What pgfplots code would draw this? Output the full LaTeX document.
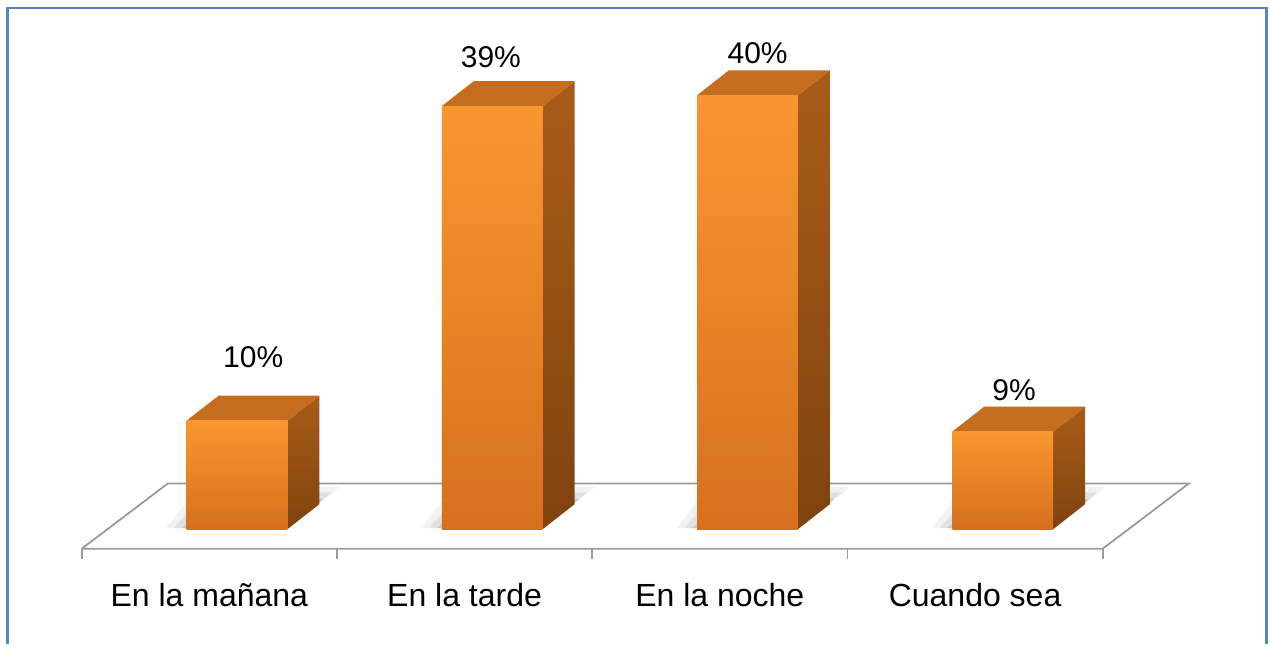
\documentclass[border=0pt]{standalone}
\usepackage{pgfplots}
\pgfplotsset{compat=1.18}
\usepackage{pgfplotstable}
\usepackage{fontspec}
\setmainfont{Liberation Sans}

\definecolor{frontTop}{HTML}{FA9630}
\definecolor{frontBot}{HTML}{D6701E}
\definecolor{sideTop}{HTML}{A95C19}
\definecolor{sideBot}{HTML}{7F430F}
\definecolor{topFace}{HTML}{C46D1F}
\definecolor{floorLine}{HTML}{9A9A9A}
\definecolor{frameBlue}{HTML}{5585C0}

% value in %, label offsets (x in categories, y in %)
\pgfplotstableread{
pos value lx ly
0 10 0.172 4.9
1 39 0.103 3.6
2 40 0.148 2.9
3 9 0.153 2.9
}\bars

\begin{document}
\begin{tikzpicture}
\begin{axis}[
    scale only axis,
    width=635pt, height=322pt,
    xmin=-0.820, xmax=4.1555,
    ymin=-10.60, ymax=48.76,
    axis line style={draw=none},
    xtick={0,1,2,3},
    xticklabels={En la mañana, En la tarde, En la noche, Cuando sea},
    ytick=\empty,
    major tick length=0pt,
    xticklabel style={anchor=base, yshift=19pt, font=\fontsize{16}{19}\selectfont},
    clip=false,
]
% floor
\addplot[floorLine, line width=0.9pt] coordinates {(-0.5,-1.80) (3.5,-1.80) (3.838,4.22) (-0.162,4.22) (-0.5,-1.80)};
\pgfplotsinvokeforeach{-0.5,0.5,1.5,2.5,3.5}{
  \addplot[floorLine, line width=0.9pt] coordinates {(#1,-1.80) (#1,-2.76)};
}

% bars: soft shadow, then side, top and front faces
\pgfplotsinvokeforeach{0,1,2,3}{
  \pgfplotstablegetelem{#1}{value}\of\bars
  \pgfmathsetmacro\barv{\pgfplotsretval}
  \pgfmathsetmacro\barvb{\barv+2.3}
  \pgfmathsetmacro\xl{#1-0.089}
  \pgfmathsetmacro\xr{#1+0.306}
  \pgfmathsetmacro\xlb{#1-0.089+0.125}
  \pgfmathsetmacro\xrb{#1+0.306+0.125}
  \edef\temp{
    \noexpand\addplot[draw=none, fill=black, fill opacity=0.05] coordinates {(\xl-0.08,0.1) (\xr,0.1) (\xrb+0.08,3.9) (\xlb-0.08,3.9)};
    \noexpand\addplot[draw=none, fill=black, fill opacity=0.07] coordinates {(\xl-0.05,0.1) (\xr,0.1) (\xrb+0.05,3.4) (\xlb-0.05,3.4)};
    \noexpand\addplot[draw=none, fill=black, fill opacity=0.10] coordinates {(\xl-0.02,0.1) (\xr,0.1) (\xrb+0.02,2.8) (\xlb-0.02,2.8)};
    \noexpand\addplot[draw=none, top color=sideTop, bottom color=sideBot] coordinates {(\xr,0) (\xr,\barv) (\xrb,\barvb) (\xrb,2.3)};
    \noexpand\addplot[draw=none, fill=topFace] coordinates {(\xl,\barv) (\xr,\barv) (\xrb,\barvb) (\xlb,\barvb)};
    \noexpand\addplot[draw=none, top color=frontTop, bottom color=frontBot] coordinates {(\xl,0) (\xl,\barv) (\xr,\barv) (\xr,0)};
  }\temp
}

% value labels
\addplot[draw=none, mark=none, point meta=explicit symbolic,
    nodes near coords={\pgfplotspointmeta\%},
    nodes near coords style={anchor=base, inner sep=0pt, text=black, font=\fontsize{15}{18}\selectfont}]
    table[x expr=\thisrow{pos}+\thisrow{lx}, y expr=\thisrow{value}+\thisrow{ly}, meta=value] {\bars};

% outer frame
\draw[frameBlue, line width=1.1pt] (rel axis cs:0.0059,0) -- (rel axis cs:0.0059,0.9884) -- (rel axis cs:0.9972,0.9884) -- (rel axis cs:0.9972,0);
\end{axis}
\end{tikzpicture}
\end{document}
